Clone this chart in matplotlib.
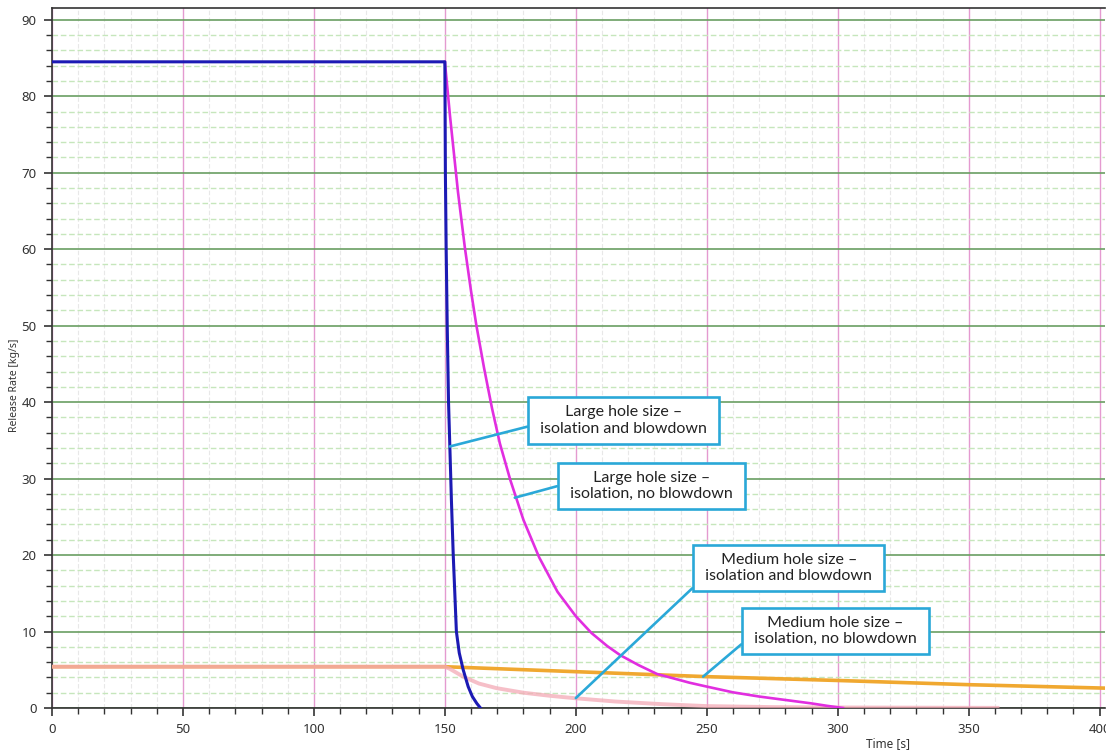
import matplotlib
matplotlib.use("Agg")
import matplotlib.pyplot as plt
from matplotlib.ticker import MultipleLocator

# Large hole size - isolation and blowdown
time_large_bd = [0, 150, 150.2, 150.5, 150.9, 151.4, 151.9, 152.5, 153.2, 153.8,
                 154.4, 155.5, 157.0, 158.9, 160.5, 162.2, 163.6]
rate_large_bd = [84.5, 84.5, 70, 60, 50, 40, 34.2, 27.2, 20, 15,
                 10, 7.2, 5.0, 2.8, 1.5, 0.6, 0]

# Large hole size - isolation, no blowdown
time_large_nobd = [150, 152, 155, 157.6, 160, 162, 165, 168, 171, 175,
                   180, 186, 193, 200, 206, 212, 217, 224, 231, 237,
                   243.5, 250, 260, 270, 280, 290, 296, 302]
rate_large_nobd = [84.5, 77.3, 67.5, 60.3, 54.5, 50.1, 44.4, 39.2, 34.6, 29.8,
                   24.6, 19.7, 15.2, 12.0, 9.8, 8.1, 6.9, 5.6, 4.45, 3.9,
                   3.3, 2.8, 2.05, 1.5, 1.05, 0.6, 0.28, 0]

# Medium hole size - isolation and blowdown
time_med_bd = [0, 150, 152, 157, 163, 169.7, 180, 190, 200, 215, 233, 250, 275, 300, 361]
rate_med_bd = [5.4, 5.4, 5.1, 4.1, 3.2, 2.6, 2.0, 1.6, 1.27, 0.85, 0.5, 0.25, 0.12, 0.07, 0.02]

# Medium hole size - isolation, no blowdown
time_med_nobd = [0, 150, 200, 250, 300, 350, 402]
rate_med_nobd = [5.4, 5.4, 4.75, 4.1, 3.6, 3.05, 2.6]

# callout labels: text, box centre, point on curve, where the leader leaves the box
labels = ["Large hole size \u2013\nisolation and blowdown",
          "Large hole size \u2013\nisolation, no blowdown",
          "Medium hole size \u2013\nisolation and blowdown",
          "Medium hole size \u2013\nisolation, no blowdown"]
label_xy = [(218.3, 37.6), (228.8, 29.0), (281.3, 18.3), (299.2, 10.1)]
label_target = [(151.9, 34.2), (176.7, 27.5), (200.0, 1.3), (248.6, 4.1)]
label_relpos = [(0, 0.37), (0, 0.58), (0, 0.11), (0, 0.3)]

callout_color = "#2aa8d8"

fig = plt.figure(figsize=(11.06, 7.54), dpi=100)
ax = fig.add_axes([0.047, 0.061, 0.952, 0.928])

ax.set_xlim(0, 402)
ax.set_ylim(0, 91.5)

ax.xaxis.set_major_locator(MultipleLocator(50))
ax.xaxis.set_minor_locator(MultipleLocator(10))
ax.yaxis.set_major_locator(MultipleLocator(10))
ax.yaxis.set_minor_locator(MultipleLocator(2))

ax.grid(which="major", axis="y", color="#6a9e62", lw=1.2)
ax.grid(which="minor", axis="y", color="#c6e6bc", lw=1.0, ls=(0, (4, 2)))
ax.grid(which="major", axis="x", color="#e49ad0", lw=1.0)
ax.grid(which="minor", axis="x", color="#e8e8e8", lw=0.8, ls=(0, (4, 2)))
ax.set_axisbelow(True)

ax.plot(time_med_nobd, rate_med_nobd, color="#f0a830", lw=2.6, zorder=3)
ax.plot(time_med_bd, rate_med_bd, color="#f4aab6", lw=2.8, alpha=0.75, zorder=3)
ax.plot(time_large_nobd, rate_large_nobd, color="#e12ee0", lw=1.9, zorder=4)
ax.plot(time_large_bd, rate_large_bd, color="#1c1ab4", lw=2.2, zorder=5)

for text, xy, target, rel in zip(labels, label_xy, label_target, label_relpos):
    padded = "\n".join(" " + line + " " for line in text.split("\n"))
    ax.annotate(padded, xy=target, xytext=xy, ha="center", va="center",
                fontsize=11.5, family=["Lato", "DejaVu Sans"], color="#222222",
                linespacing=1.2, zorder=6,
                bbox=dict(boxstyle="square,pad=0.5", fc="white",
                          ec=callout_color, lw=1.9),
                arrowprops=dict(arrowstyle="-", color=callout_color, lw=1.9,
                                relpos=rel, shrinkA=0, shrinkB=0))

for side in ["left", "bottom", "top"]:
    ax.spines[side].set_color("#333333")
    ax.spines[side].set_linewidth(1.2)
ax.spines["right"].set_visible(False)

ax.tick_params(which="major", direction="out", length=6, width=1.2,
               color="#333333", labelsize=9.5, labelcolor="#333333", pad=5)
ax.tick_params(which="minor", direction="out", length=4, width=1.0, color="#333333")
for lab in ax.get_xticklabels() + ax.get_yticklabels():
    lab.set_family(["Noto Sans", "DejaVu Sans"])

fig.text(15 / 1106, 1 - 385 / 754, "Release Rate [kg/s]", rotation=90,
         ha="center", va="center", fontsize=7.5, color="#333333",
         family=["Noto Sans", "DejaVu Sans"])
fig.text(888 / 1106, 1 - 744 / 754, "Time [s]", ha="center", va="center",
         fontsize=8.5, color="#333333", family=["Noto Sans", "DejaVu Sans"])

fig.savefig("out.png", dpi=100)
